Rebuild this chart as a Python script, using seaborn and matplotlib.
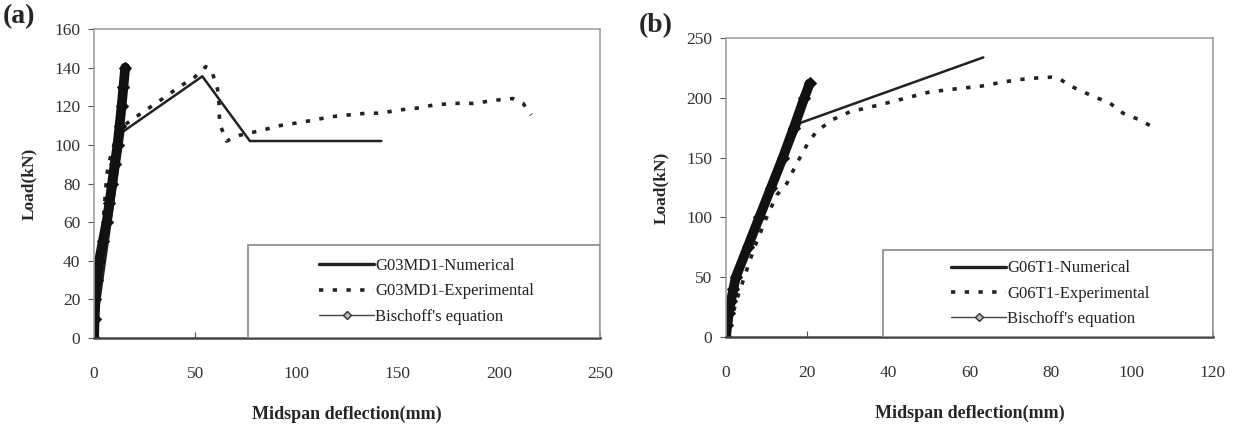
import matplotlib
matplotlib.use("Agg")
import matplotlib.pyplot as plt
import seaborn as sns
import pandas as pd
from matplotlib.lines import Line2D
from matplotlib.patches import Rectangle

# ---------------- data: panel (a) ----------------
a_num_x = [0, 14.5, 53.5, 77, 142]
a_num_y = [0, 107, 135.5, 102, 102]
a_exp_x = [0, 6.3, 7.4, 12, 20, 31.8, 38.7, 43.6, 49.6, 55.2, 58, 61, 61.8, 62, 65.5, 72, 83.5, 92,
           104, 117.4, 125.7, 134.7, 142, 150, 159.4, 167.6, 177.5, 187.4, 199, 207, 212, 216]
a_exp_y = [0, 84.4, 91, 108, 114, 122.4, 127.5, 131, 135, 140.5, 138.8, 129, 120.6, 111, 102, 105,
           107.7, 110, 112, 114.6, 115.5, 116.4, 116.4, 118, 119, 120.6, 121.5, 121.5, 123.2, 124, 121.5, 115.5]
a_bis_x = [0, 0.3, 0.7, 1.4, 2.5, 4.3, 6.2, 7.6, 8.9, 10.2, 11.6, 12.6, 13.6, 14.5, 15.4]
a_bis_y = [0, 10, 20, 30, 40, 50, 60, 70, 80, 90, 100, 110, 120, 130, 140]
a_labels = ["G03MD1-Numerical", "G03MD1-Experimental", "Bischoff's equation"]
a_xticks = [0, 50, 100, 150, 200, 250]
a_yticks = [0, 20, 40, 60, 80, 100, 120, 140, 160]

# ---------------- data: panel (b) ----------------
b_num_x = [0, 1.5, 18.3, 63.4]
b_num_y = [0, 45, 179, 233.8]
b_exp_x = [0, 3, 7, 10, 12.5, 15, 17.4, 20, 22.3, 26.4, 31, 33.4, 40, 50.3, 57.7, 62.6, 67.5, 71.6, 75.7,
           80.3, 81.9, 85.2, 89.7, 94.6, 97.9, 102, 105.7]
b_exp_y = [0, 35, 75, 100, 118.7, 128.5, 145, 161, 172, 182, 189, 190.5, 196, 205, 207.9, 209.6, 212.7, 215,
           216.4, 217.3, 216.4, 209.4, 202.4, 195.5, 187, 181.5, 174.5]
b_bis_x = [0, 0.3, 0.7, 1.2, 1.8, 2.4, 5.3, 8.2, 11.1, 14.0, 16.7, 19.3, 20.6]
b_bis_y = [0, 10, 20, 30, 40, 50, 75, 100, 125, 150, 175, 200, 212]
b_labels = ["G06T1-Numerical", "G06T1-Experimental", "Bischoff's equation"]
b_xticks = [0, 20, 40, 60, 80, 100, 120]
b_yticks = [0, 50, 100, 150, 200, 250]

sns.set_style("white")
plt.rcParams['font.family'] = ['Liberation Serif', 'DejaVu Serif']

fig = plt.figure(figsize=(12.36, 4.33), dpi=100)
ax_a = fig.add_axes([0.0761, 0.2194, 0.4093, 0.7136])
ax_b = fig.add_axes([0.5874, 0.2217, 0.3940, 0.6905])

DOT = (0, (1.2, 2.6))


def draw(ax, nx, ny, ex, ey, bx, by, labels, xticks, yticks, leg_left, leg_top):
    sns.lineplot(data=pd.DataFrame({"x": ex, "y": ey}), x="x", y="y", sort=False, estimator=None,
                 ax=ax, color="#222222", lw=2.6, linestyle=DOT, legend=False)
    sns.lineplot(data=pd.DataFrame({"x": nx, "y": ny}), x="x", y="y", sort=False, estimator=None,
                 ax=ax, color="#222222", lw=1.8, legend=False)
    sns.lineplot(data=pd.DataFrame({"x": bx, "y": by}), x="x", y="y", sort=False, estimator=None,
                 ax=ax, color="#111111", lw=7, marker="D", markersize=6, legend=False,
                 markeredgecolor="#111111", markerfacecolor="#111111",
                 solid_capstyle="round")
    ax.set_xlim(xticks[0], xticks[-1])
    ax.set_ylim(yticks[0], yticks[-1])
    ax.set_xticks(xticks)
    ax.set_yticks(yticks)
    ax.set_xticklabels([str(t) for t in xticks], fontsize=12.5, color="#333333")
    ax.set_yticklabels([str(t) for t in yticks], fontsize=12.5, color="#333333")
    ax.tick_params(axis="x", direction="in", length=4, pad=20, color="#555555")
    ax.tick_params(axis="y", direction="out", length=4, pad=6, color="#555555", left=True)
    ax.tick_params(axis="x", bottom=True)
    for s in ["top", "right", "left"]:
        ax.spines[s].set_color("#a0a0a0")
        ax.spines[s].set_linewidth(1.2)
    ax.spines["bottom"].set_color("#444444")
    ax.spines["bottom"].set_linewidth(1.8)
    ax.set_xlabel("Midspan deflection(mm)", fontsize=13, fontweight="bold", labelpad=17)
    ax.set_ylabel("Load(kN)", fontsize=12.5, fontweight="bold", labelpad=12)
    # legend frame
    ax.add_patch(Rectangle((leg_left, 0), 1 - leg_left, leg_top, transform=ax.transAxes,
                           facecolor="white", edgecolor="#888888", lw=1.2, zorder=4))
    handles = [
        Line2D([], [], color="#222222", lw=2.4),
        Line2D([], [], color="#222222", lw=2.6, linestyle=DOT),
        Line2D([], [], color="#444444", lw=1.0, marker="D", markersize=4.5,
               markerfacecolor="#bbbbbb", markeredgecolor="#333333"),
    ]
    leg = ax.legend(handles, labels, loc="center", bbox_to_anchor=((1 + leg_left) / 2 + 0.005, leg_top / 2),
                    frameon=False, fontsize=12, handlelength=3.3, handletextpad=0.05,
                    labelspacing=0.55, borderaxespad=0)
    leg.set_zorder(5)
    for t in leg.get_texts():
        t.set_color("#222222")


draw(ax_a, a_num_x, a_num_y, a_exp_x, a_exp_y, a_bis_x, a_bis_y, a_labels, a_xticks, a_yticks, 0.304, 0.301)
draw(ax_b, b_num_x, b_num_y, b_exp_x, b_exp_y, b_bis_x, b_bis_y, b_labels, b_xticks, b_yticks, 0.322, 0.291)

fig.text(0.002, 0.962, "(a)", fontsize=20, fontweight="bold", va="center", ha="left")
fig.text(0.517, 0.94, "(b)", fontsize=20, fontweight="bold", va="center", ha="left")

fig.savefig("out.png", dpi=100)
